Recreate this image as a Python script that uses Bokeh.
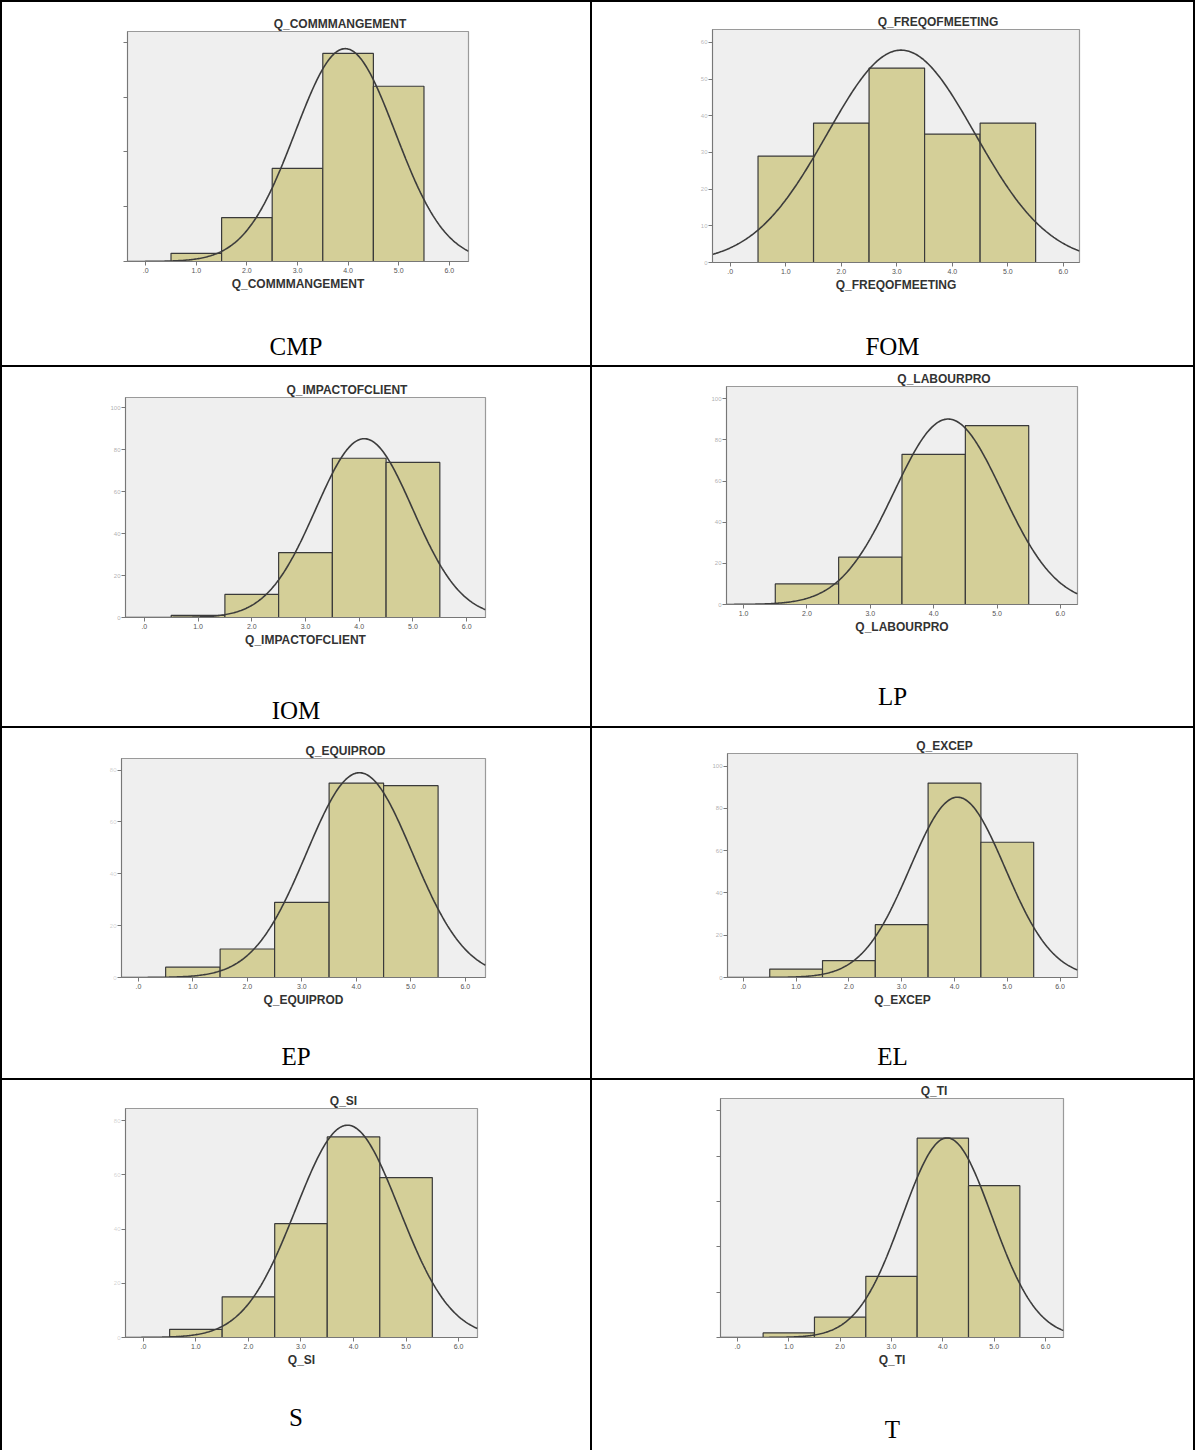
import numpy as np
from bokeh.plotting import figure
from bokeh.models import Div, Spacer, FixedTicker, CustomJSTickFormatter
from bokeh.layouts import row, column
from bokeh.embed import file_html
from bokeh.resources import INLINE

# ---------------- data ----------------
cell_labels = ["CMP", "FOM", "IOM", "LP", "EP", "EL", "S", "T"]
var_names = ["Q_COMMMANGEMENT", "Q_FREQOFMEETING", "Q_IMPACTOFCLIENT", "Q_LABOURPRO",
             "Q_EQUIPROD", "Q_EXCEP", "Q_SI", "Q_TI"]
bin_centers = [1, 2, 3, 4, 5]
counts_cmp = [3, 16, 34, 76, 64]
counts_fom = [29, 38, 53, 35, 38]
counts_iom = [1, 11, 31, 76, 74]
counts_lp = [0, 10, 23, 73, 87]
counts_ep = [4, 11, 29, 75, 74]
counts_el = [4, 8, 25, 92, 64]
counts_s = [3, 15, 42, 74, 59]
counts_t = [2, 9, 27, 88, 67]
all_counts = [counts_cmp, counts_fom, counts_iom, counts_lp,
              counts_ep, counts_el, counts_s, counts_t]

# axis extents / ticks
x_ranges = [(-0.36, 6.38), (-0.32, 6.29), (-0.35, 6.35), (0.73, 6.27),
            (-0.31, 6.37), (-0.30, 6.33), (-0.34, 6.36), (-0.33, 6.35)]
x_tick_first = [0, 0, 0, 1, 0, 0, 0, 0]
y_max = [84, 63.5, 105, 106, 84.5, 106, 84.5, 105.5]
y_tick_top = [80, 60, 100, 100, 80, 100, 80, 100]
y_tick_step = [20, 10, 20, 20, 20, 20, 20, 20]
y_label_alpha = [0.0, 0.55, 0.6, 0.6, 0.35, 0.6, 0.35, 0.0]

# ---------------- layout constants ----------------
col_w = [588, 601]
row_h = [363, 359, 350, 370]
LINE = 2
# (left, right, top, bottom-of-frame) borders inside each cell
frames = [(125, 122, 29, 259), (120, 114, 27, 260),
          (123, 105, 30, 250), (134, 116, 19, 237),
          (119, 105, 30, 249), (135, 116, 25, 249),
          (123, 113, 28, 257), (128, 130, 17, 257)]
label_center = [345, 345, 344, 330, 329, 329, 338, 350]
TITLE_SHIFT = 42
TITLE_PX = 12

BAR = "#D4CF98"
BG = "#EFEFEF"
SANS = "Liberation Sans"
SERIF = "Liberation Serif"

# approximate advance widths (em) of bold sans capitals, to place the off-centre title
_EM = {"Q": .778, "_": .556, "C": .722, "O": .778, "M": .833, "A": .722, "N": .722,
       "G": .778, "E": .667, "T": .611, "F": .611, "R": .722, "I": .278, "P": .667,
       "L": .611, "B": .722, "U": .722, "D": .722, "X": .667, "S": .667}


def text_w(s, px):
    return sum(_EM.get(ch, .7) for ch in s) * px


tick_fmt = CustomJSTickFormatter(code="return tick == 0 ? '.0' : tick.toFixed(1);")


def make_cell(i):
    c = i % 2
    r = i // 2
    cw = col_w[c]
    rh = row_h[r]
    fl, fr, ft, fb = frames[i]
    fh = fb + 44
    counts = np.array(all_counts[i], dtype=float)
    centers = np.array(bin_centers, dtype=float)
    x0, x1 = x_ranges[i]

    p = figure(width=cw, height=fh, x_range=(x0, x1), y_range=(0, y_max[i]),
               output_backend="svg", toolbar_location=None,
               min_border_left=fl, min_border_right=fr,
               min_border_top=ft, min_border_bottom=fh - fb)
    p.background_fill_color = BG
    p.border_fill_color = "white"
    p.outline_line_color = "#9a9a9a"
    p.outline_line_width = 1.2
    p.xgrid.visible = False
    p.ygrid.visible = False

    keep = counts > 0
    p.quad(left=centers[keep] - 0.5, right=centers[keep] + 0.5, bottom=0,
           top=counts[keep], fill_color=BAR, line_color="#3a3a3a", line_width=1.2)

    # fitted normal curve from the bar counts
    n = counts.sum()
    mean = (counts * centers).sum() / n
    sd = np.sqrt((counts * (centers - mean) ** 2).sum() / (n - 1))
    xs = np.linspace(x0, x1, 300)
    ys = n * 1.0 / (sd * np.sqrt(2 * np.pi)) * np.exp(-0.5 * ((xs - mean) / sd) ** 2)
    p.line(xs, ys, line_color="#3c3c3c", line_width=1.6)

    # title, shifted right of the frame centre as in the source
    frame_w = cw - fl - fr
    p.title.text = var_names[i]
    p.title.align = "left"
    p.title.offset = max(0, frame_w / 2 + TITLE_SHIFT - text_w(var_names[i], TITLE_PX) / 2)
    p.title.text_font = SANS
    p.title.text_font_size = f"{TITLE_PX}px"
    p.title.text_font_style = "bold"
    p.title.text_color = "#333333"
    p.title.standoff = 2

    # axes
    xa = p.xaxis[0]
    xa.ticker = FixedTicker(ticks=list(range(x_tick_first[i], 7)))
    xa.formatter = tick_fmt
    xa.axis_label = var_names[i]
    xa.axis_label_text_font = SANS
    xa.axis_label_text_font_size = "12px"
    xa.axis_label_text_font_style = "bold"
    xa.axis_label_text_color = "#333333"
    xa.axis_label_standoff = 1
    xa.major_label_text_font = SANS
    xa.major_label_text_font_size = "7px"
    xa.major_label_text_color = "#555555"
    xa.major_label_standoff = 2

    ya = p.yaxis[0]
    ya.ticker = FixedTicker(ticks=list(range(0, y_tick_top[i] + 1, y_tick_step[i])))
    ya.major_label_text_font = SANS
    ya.major_label_text_font_size = "6px"
    ya.major_label_text_color = "#777777"
    ya.major_label_text_alpha = y_label_alpha[i]
    ya.major_label_standoff = 1

    for ax in (xa, ya):
        ax.axis_line_color = "#777777"
        ax.major_tick_line_color = "#777777"
        ax.major_tick_out = 4
        ax.major_tick_in = 0
        ax.minor_tick_line_color = None

    pt = label_center[i] - fh - 14
    lab = Div(text=(f'<div style="font-family:\'{SERIF}\',\'Times New Roman\',serif;'
                    f'font-size:25px;line-height:28px;color:#000;text-align:center;'
                    f'width:{cw}px;padding-top:{pt}px;">{cell_labels[i]}</div>'),
              width=cw, height=rh - fh, margin=0)
    return column(p, lab, spacing=0)


def vline(h):
    return Spacer(width=LINE, height=h, margin=0, styles={"background-color": "black"})


total_w = LINE * 3 + col_w[0] + col_w[1]


def hline():
    return Spacer(width=total_w, height=LINE, margin=0, styles={"background-color": "black"})


children = [hline()]
for r in range(4):
    children.append(row(vline(row_h[r]), make_cell(2 * r), vline(row_h[r]),
                        make_cell(2 * r + 1), vline(row_h[r]), spacing=0))
    if r < 3:
        children.append(hline())

root = column(*children, spacing=0)

open("out.html", "w").write(file_html(root, INLINE))
